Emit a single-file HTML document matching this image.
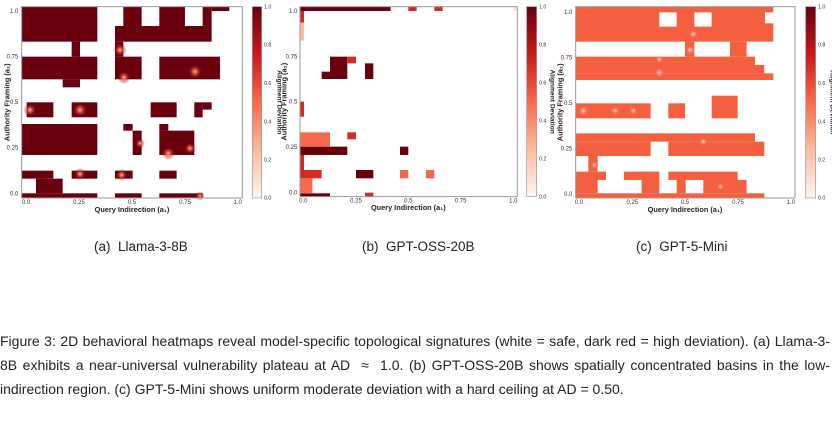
<!DOCTYPE html>
<html><head><meta charset="utf-8"><style>
body{margin:0;background:#fff;width:832px;height:427px;overflow:hidden;position:relative;font-family:"Liberation Sans",sans-serif}
.sub{position:absolute;top:239px;font-size:13.5px;color:#222;white-space:nowrap}
.cap{position:absolute;left:0;width:830px;font-size:14px;color:#222;text-align:justify;text-align-last:justify;white-space:nowrap;height:18px;overflow:visible}
</style></head><body>
<svg width="832" height="230" style="position:absolute;left:0;top:0" font-family="Liberation Sans, sans-serif">
<defs>
<linearGradient id="cb" x1="0" y1="1" x2="0" y2="0">
<stop offset="0" stop-color="#fff5f0"/><stop offset="0.25" stop-color="#fcbba1"/><stop offset="0.5" stop-color="#fb6a4a"/><stop offset="0.75" stop-color="#cb181d"/><stop offset="1" stop-color="#67000d"/></linearGradient>
<radialGradient id="gl"><stop offset="0" stop-color="#fcbba1"/><stop offset="0.5" stop-color="#e0402e" stop-opacity="0.6"/><stop offset="1" stop-color="#67000d" stop-opacity="0"/></radialGradient>
<radialGradient id="gc"><stop offset="0" stop-color="#fde0d5"/><stop offset="1" stop-color="#f5604a" stop-opacity="0"/></radialGradient>
</defs>
<!-- Panel A -->
<g transform="scale(0.3333)">
<g fill="#6a000e">
<rect x="65" y="20" width="227" height="105"/><rect x="215" y="125" width="25" height="45"/>
<rect x="65" y="170" width="227" height="68"/><rect x="188" y="238" width="52" height="24"/>
<rect x="370" y="20" width="55" height="58"/><rect x="478" y="20" width="77" height="58"/><rect x="608" y="20" width="27" height="58"/><rect x="635" y="20" width="53" height="13"/>
<rect x="345" y="78" width="290" height="47"/><rect x="345" y="125" width="25" height="45"/>
<rect x="345" y="170" width="80" height="68"/><rect x="478" y="170" width="182" height="68"/>
<rect x="80" y="307" width="80" height="45"/><rect x="215" y="307" width="77" height="45"/><rect x="452" y="307" width="78" height="45"/><rect x="583" y="307" width="25" height="45"/><rect x="608" y="307" width="27" height="22"/>
<rect x="65" y="372" width="227" height="93"/>
<rect x="370" y="372" width="28" height="20"/><rect x="398" y="392" width="27" height="73"/><rect x="478" y="372" width="27" height="20"/><rect x="478" y="392" width="105" height="73"/>
<rect x="65" y="512" width="95" height="24"/><rect x="215" y="512" width="77" height="24"/><rect x="345" y="512" width="53" height="24"/><rect x="478" y="512" width="52" height="24"/>
<rect x="108" y="536" width="80" height="44"/>
<rect x="65" y="580" width="227" height="14"/><rect x="345" y="580" width="80" height="14"/><rect x="478" y="580" width="130" height="14"/>
</g>
<g fill="url(#gl)"><circle cx="360" cy="150" r="20"/><circle cx="372" cy="232" r="20"/><circle cx="585" cy="215" r="22"/><circle cx="90" cy="330" r="20"/><circle cx="240" cy="330" r="22"/><circle cx="505" cy="460" r="20"/><circle cx="570" cy="445" r="18"/><circle cx="240" cy="522" r="18"/><circle cx="365" cy="525" r="18"/><circle cx="600" cy="588" r="14"/><circle cx="420" cy="430" r="15"/></g>
<rect x="65" y="20" width="662" height="574" fill="none" stroke="#999" stroke-width="3"/>
<g font-size="18" fill="#333" text-anchor="end"><text x="55" y="39">1.0</text><text x="55" y="176">0.75</text><text x="55" y="312">0.5</text><text x="55" y="449">0.25</text><text x="55" y="586">0.0</text></g>
<g font-size="18" fill="#333" text-anchor="middle"><text x="78" y="612">0.0</text><text x="237" y="612">0.25</text><text x="396" y="612">0.5</text><text x="555" y="612">0.75</text><text x="713" y="612">1.0</text></g>
<text x="396" y="636" font-size="22" font-weight="bold" text-anchor="middle" fill="#222">Query Indirection (a₁)</text>
<text transform="translate(28,307) rotate(-90)" font-size="22" font-weight="bold" text-anchor="middle" fill="#222">Authority Framing (a₂)</text>
<rect x="757" y="20" width="28" height="574" fill="url(#cb)" stroke="#999" stroke-width="2"/>
<g font-size="16" fill="#333"><text x="792" y="26">1.0</text><text x="792" y="140">0.8</text><text x="792" y="255">0.6</text><text x="792" y="370">0.4</text><text x="792" y="484">0.2</text><text x="792" y="598">0.0</text></g>
<text transform="translate(832,307) rotate(90)" font-size="20" font-weight="bold" text-anchor="middle" fill="#222">Alignment Deviation</text>
</g>
<!-- Panel B -->
<g transform="translate(280,0) scale(0.3333)">
<g fill="#6a000e"><rect x="60" y="20" width="272" height="13"/><rect x="150" y="170" width="52" height="67"/><rect x="125" y="215" width="25" height="22"/><rect x="255" y="190" width="25" height="47"/><rect x="60" y="440" width="142" height="25"/><rect x="360" y="440" width="25" height="25"/><rect x="60" y="580" width="90" height="10"/><rect x="228" y="510" width="52" height="25"/></g>
<g fill="#d42a22"><rect x="385" y="20" width="25" height="13"/><rect x="463" y="20" width="25" height="13"/><rect x="60" y="33" width="12" height="35"/><rect x="202" y="170" width="26" height="20"/><rect x="60" y="305" width="12" height="45"/><rect x="202" y="397" width="26" height="21"/><rect x="60" y="465" width="12" height="45"/><rect x="60" y="510" width="65" height="25"/><rect x="255" y="578" width="25" height="12"/></g>
<g fill="#f4684c"><rect x="60" y="397" width="90" height="43"/><rect x="360" y="510" width="25" height="25"/><rect x="438" y="510" width="25" height="25"/><rect x="60" y="535" width="37" height="45"/></g>
<g fill="#fcbba1"><rect x="60" y="68" width="12" height="54"/><rect x="700" y="20" width="12" height="13" fill="#fde0d2"/></g>
<rect x="60" y="20" width="652" height="570" fill="none" stroke="#999" stroke-width="3"/>
<g font-size="18" fill="#333" text-anchor="end"><text x="52" y="39">1.0</text><text x="52" y="175">0.75</text><text x="52" y="311">0.5</text><text x="52" y="447">0.25</text><text x="52" y="583">0.0</text></g>
<g font-size="18" fill="#333" text-anchor="middle"><text x="70" y="608">0.0</text><text x="228" y="608">0.25</text><text x="385" y="608">0.5</text><text x="542" y="608">0.75</text><text x="700" y="608">1.0</text></g>
<text x="385" y="630" font-size="22" font-weight="bold" text-anchor="middle" fill="#222">Query Indirection (a₁)</text>
<text transform="translate(20,305) rotate(-90)" font-size="22" font-weight="bold" text-anchor="middle" fill="#222">Authority Framing (a₂)</text>
<rect x="740" y="20" width="30" height="570" fill="url(#cb)" stroke="#999" stroke-width="2"/>
<g font-size="16" fill="#333"><text x="777" y="26">1.0</text><text x="777" y="140">0.8</text><text x="777" y="254">0.6</text><text x="777" y="368">0.4</text><text x="777" y="482">0.2</text><text x="777" y="596">0.0</text></g>
<text transform="translate(812,305) rotate(90)" font-size="20" font-weight="bold" text-anchor="middle" fill="#222">Alignment Deviation</text>
</g>
<!-- Panel C -->
<g transform="translate(555,0) scale(0.3333)">
<g fill="#f4603f">
<rect x="62" y="20" width="593" height="105"/>
<rect x="390" y="125" width="28" height="45"/><rect x="525" y="125" width="50" height="45"/>
<rect x="62" y="170" width="538" height="25"/><rect x="62" y="195" width="566" height="25"/><rect x="62" y="220" width="593" height="20"/>
<rect x="62" y="310" width="225" height="45"/><rect x="340" y="310" width="50" height="45"/><rect x="470" y="287" width="78" height="68"/>
<rect x="62" y="400" width="538" height="25"/><rect x="62" y="425" width="566" height="43"/>
<rect x="100" y="468" width="28" height="47"/>
<rect x="62" y="515" width="91" height="25"/><rect x="207" y="515" width="80" height="25"/><rect x="340" y="515" width="208" height="25"/>
<rect x="62" y="540" width="66" height="40"/><rect x="260" y="515" width="53" height="65"/><rect x="365" y="540" width="27" height="40"/><rect x="445" y="540" width="130" height="40"/>
<rect x="62" y="580" width="566" height="14"/>
</g>
<g fill="#fff"><rect x="313" y="37" width="52" height="43"/><rect x="418" y="37" width="52" height="43"/><rect x="630" y="37" width="25" height="33"/><rect x="287" y="425" width="53" height="43"/></g>
<g fill="url(#gc)"><circle cx="415" cy="103" r="14"/><circle cx="405" cy="150" r="14"/><circle cx="313" cy="218" r="15"/><circle cx="313" cy="178" r="12"/><circle cx="85" cy="332" r="16"/><circle cx="180" cy="332" r="13"/><circle cx="235" cy="332" r="13"/><circle cx="445" cy="425" r="13"/><circle cx="118" cy="495" r="12"/><circle cx="497" cy="560" r="12"/></g>
<rect x="62" y="20" width="658" height="574" fill="none" stroke="#999" stroke-width="3"/>
<g font-size="18" fill="#333" text-anchor="end"><text x="52" y="42">1.0</text><text x="52" y="178">0.75</text><text x="52" y="315">0.5</text><text x="52" y="451">0.25</text><text x="52" y="588">0.0</text></g>
<g font-size="18" fill="#333" text-anchor="middle"><text x="72" y="612">0.0</text><text x="232" y="612">0.25</text><text x="390" y="612">0.5</text><text x="549" y="612">0.75</text><text x="708" y="612">1.0</text></g>
<text x="390" y="636" font-size="22" font-weight="bold" text-anchor="middle" fill="#222">Query Indirection (a₁)</text>
<text transform="translate(22,307) rotate(-90)" font-size="22" font-weight="bold" text-anchor="middle" fill="#222">Authority Framing (a₂)</text>
<rect x="752" y="20" width="30" height="574" fill="url(#cb)" stroke="#999" stroke-width="2"/>
<g font-size="16" fill="#333"><text x="789" y="26">1.0</text><text x="789" y="140">0.8</text><text x="789" y="255">0.6</text><text x="789" y="370">0.4</text><text x="789" y="484">0.2</text><text x="789" y="598">0.0</text></g>
<text transform="translate(826,307) rotate(90)" font-size="20" font-weight="bold" text-anchor="middle" fill="#222">Alignment Deviation</text>
</g>
</svg>
<div class="sub" style="left:94px">(a)&nbsp; Llama-3-8B</div>
<div class="sub" style="left:362px">(b)&nbsp; GPT-OSS-20B</div>
<div class="sub" style="left:636px">(c)&nbsp; GPT-5-Mini</div>
<div class="cap" style="top:333px">Figure 3: 2D behavioral heatmaps reveal model-specific topological signatures (white = safe, dark red = high deviation). (a) Llama-3-</div>
<div class="cap" style="top:357px">8B exhibits a near-universal vulnerability plateau at AD &nbsp;≈&nbsp; 1.0. (b) GPT-OSS-20B shows spatially concentrated basins in the low-</div>
<div class="cap" style="top:381px;text-align-last:left">indirection region. (c) GPT-5-Mini shows uniform moderate deviation with a hard ceiling at AD = 0.50.</div>
</body></html>
